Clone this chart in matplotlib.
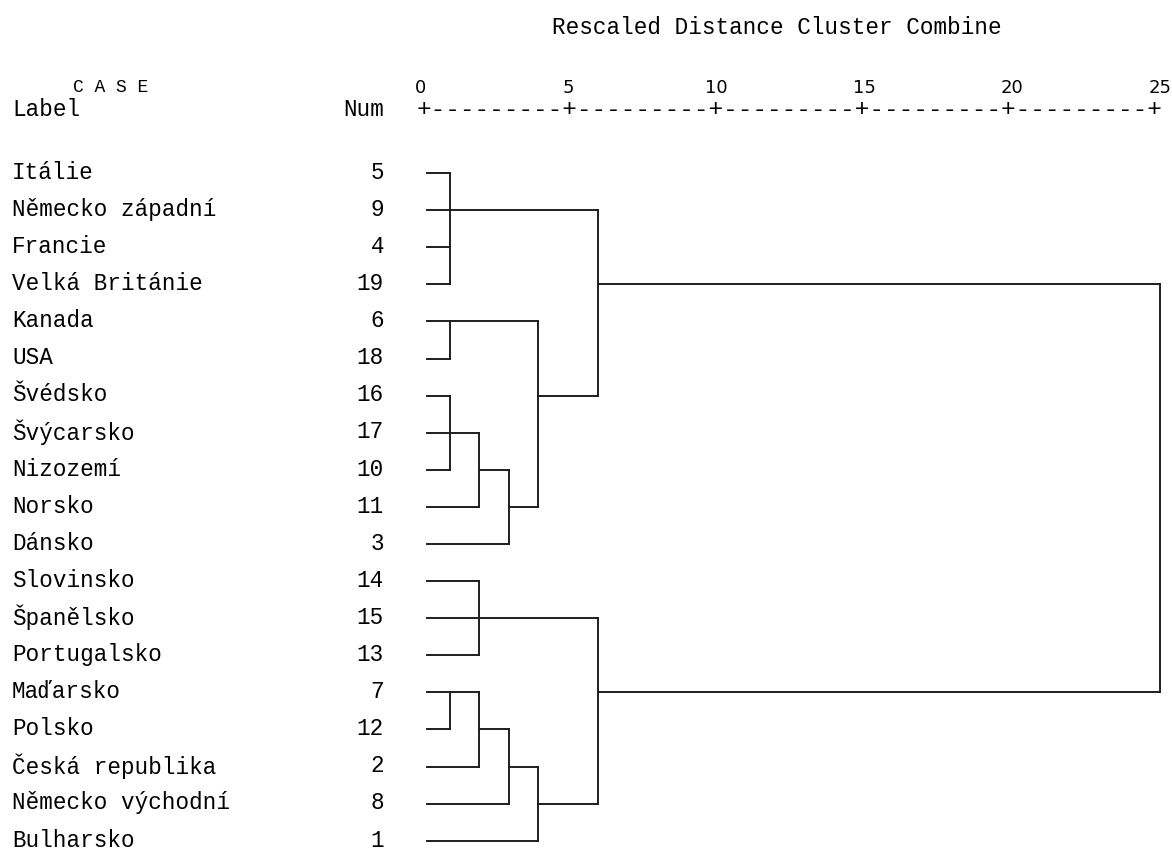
import numpy as np
import matplotlib
matplotlib.use('Agg')
import matplotlib.pyplot as plt

# case labels and SPSS case numbers, top to bottom
labels = ['Itálie', 'Německo západní', 'Francie', 'Velká Británie', 'Kanada', 'USA',
          'Švédsko', 'Švýcarsko', 'Nizozemí', 'Norsko', 'Dánsko', 'Slovinsko',
          'Španělsko', 'Portugalsko', 'Maďarsko', 'Polsko', 'Česká republika',
          'Německo východní', 'Bulharsko']
case_nums = [5, 9, 4, 19, 6, 18, 16, 17, 10, 11, 3, 14, 15, 13, 7, 12, 2, 8, 1]

# merges: children (leaf index 0..18, new clusters numbered from 19) and rescaled distance
merge_children = [
    [0, 1, 2, 3],    # 19
    [4, 5],          # 20
    [6, 7, 8],       # 21
    [14, 15],        # 22
    [21, 9],         # 23
    [11, 12, 13],    # 24
    [22, 16],        # 25
    [23, 10],        # 26
    [25, 17],        # 27
    [20, 26],        # 28
    [27, 18],        # 29
    [19, 28],        # 30
    [24, 29],        # 31
    [30, 31],        # 32
]
merge_heights = [1, 1, 1, 1, 2, 2, 2, 3, 3, 4, 4, 6, 6, 25]

axis_ticks = [0, 5, 10, 15, 20, 25]

# pixel layout of the old text output
px_unit = 29.6
px_row = 37.1
x0_px = 420
y0_px = 173
W, H = 1172, 848

fig = plt.figure(figsize=(W / 100, H / 100), dpi=100)
ax = fig.add_axes([0, 0, 1, 1])
ax.set_xlim(-x0_px / px_unit, (W - x0_px) / px_unit)
ax.set_ylim((H - y0_px) / px_row, -y0_px / px_row)
ax.axis('off')

def px2x(p):
    return (p - x0_px) / px_unit

def px2y(p):
    return (p - y0_px) / px_row

mono = 'Liberation Mono'
fs = 16.3
lc = '#1e1e1e'
lw = 1.4

leaf_start = 0.24
nodes = {i: (i, leaf_start) for i in range(len(labels))}
nid = len(labels)
for kids, h in zip(merge_children, merge_heights):
    rows = []
    for k in kids:
        r, xs = nodes[k]
        ax.plot([xs, h], [r, r], color=lc, lw=lw, solid_capstyle='projecting')
        rows.append(r)
    ax.plot([h, h], [min(rows), max(rows)], color=lc, lw=lw, solid_capstyle='projecting')
    nodes[nid] = (int(np.floor((min(rows) + max(rows)) / 2)), h)
    nid += 1

for i, (lab, n) in enumerate(zip(labels, case_nums)):
    ax.text(px2x(12), i - 0.02, lab, fontfamily=mono, fontsize=fs, ha='left', va='center')
    ax.text(px2x(384), i - 0.02, str(n), fontfamily=mono, fontsize=fs, ha='right', va='center')

# header
ax.text(px2x(777), px2y(27), 'Rescaled Distance Cluster Combine', fontfamily=mono,
        fontsize=fs, ha='center', va='center')
ax.text(px2x(111), px2y(88), 'C A S E', fontfamily=mono, fontsize=13, ha='center', va='center')
ax.text(px2x(12), px2y(110), 'Label', fontfamily=mono, fontsize=fs, ha='left', va='center')
ax.text(px2x(384), px2y(110), 'Num', fontfamily=mono, fontsize=fs, ha='right', va='center')
for t in axis_ticks:
    ax.text(t, px2y(88), str(t), fontfamily='DejaVu Sans', fontsize=13, ha='center', va='center')
ruler = '+' + '+'.join(['-' * 9] * 5) + '+'
ax.text(12.5, px2y(110), ruler, fontfamily=mono, fontsize=17.6, ha='center', va='center')

fig.savefig('out.png', dpi=100)
